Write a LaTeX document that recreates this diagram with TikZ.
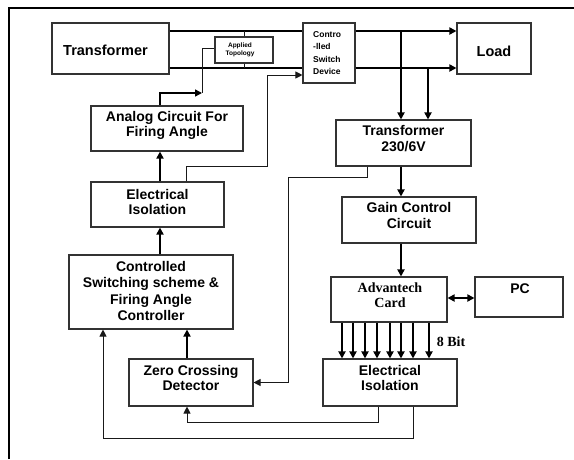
\documentclass[tikz,border=0pt]{standalone}
\usepackage{fontspec}
\setmainfont{Liberation Sans}
\newfontfamily\cardfont{Liberation Serif}
\usetikzlibrary{arrows.meta,calc}

\begin{document}
\begin{tikzpicture}[
    x=1pt, y=-1pt,
    font=\bfseries\fontsize{14}{15.5}\selectfont,
    block/.style={draw=black!80, line width=1.1pt, inner sep=0pt},
    blocktext/.style={align=center, inner sep=0pt},
    bus/.style={line width=2pt, black},
    wire/.style={line width=1pt, black!90},
    arrow/.style={-{Triangle[length=7pt,width=7pt]}},
    twoway/.style={{Triangle[length=7pt,width=7pt]}-{Triangle[length=7pt,width=7pt]}}
]
\useasboundingbox (0,0) rectangle (574,459);
\draw[line width=2pt] (9,459) -- (9,8) -- (574,8);

\node[block, minimum width=117pt, minimum height=51pt] (xfmr) at (110.5,48.5) {};
\node[blocktext, font=\bfseries\fontsize{14.5}{16}\selectfont] (xfmr-t)
    at ([xshift=-5pt,yshift=-1.5pt]xfmr.center) {Transformer};

\node[block, minimum width=58pt, minimum height=26pt] (topo) at (244,50) {};
\node[blocktext, font=\bfseries\fontsize{6.5}{8}\selectfont] (topo-t)
    at ([xshift=-4pt]topo.center) {Applied\\Topology};

\node[block, minimum width=52pt, minimum height=60pt] (sw) at (329,53) {};
\node[blocktext, align=left, anchor=west, font=\bfseries\fontsize{8.5}{12.3}\selectfont] (sw-t)
    at ([xshift=-16pt]sw.center) {Contro\\-lled\\Switch\\Device};

\node[block, minimum width=74pt, minimum height=51pt] (load) at (494,48.5) {};
\node[blocktext, font=\bfseries\fontsize{14.5}{16}\selectfont] (load-t)
    at ([yshift=-3pt]load.center) {Load};

\node[block, minimum width=135pt, minimum height=46pt] (t230) at (403.5,143) {};
\node[blocktext] (t230-t) at ([yshift=4.5pt]t230.center) {Transformer\\230/6V};

\node[block, minimum width=134pt, minimum height=46pt] (gain) at (409,220) {};
\node[blocktext] (gain-t) at ([yshift=4.5pt]gain.center) {Gain Control\\Circuit};

\node[block, minimum width=116pt, minimum height=45pt] (adv) at (389,299.5) {};
\node[blocktext, font=\cardfont\bfseries\fontsize{14}{15}\selectfont] (adv-t)
    at ([xshift=1pt,yshift=4.5pt]adv.center) {Advantech\\Card};

\node[block, minimum width=88pt, minimum height=40pt] (pc) at (519,297) {};
\node[blocktext] (pc-t) at ([xshift=1pt,yshift=8.5pt]pc.center) {PC};

\node[block, minimum width=134pt, minimum height=47pt] (eiso2) at (390,382.5) {};
\node[blocktext] (eiso2-t) at ([yshift=4.5pt]eiso2.center) {Electrical\\Isolation};

\node[block, minimum width=152pt, minimum height=45pt] (analog) at (167,128.5) {};
\node[blocktext] (analog-t) at ([yshift=3pt]analog.center) {Analog Circuit For\\Firing Angle};

\node[block, minimum width=133pt, minimum height=45pt] (eiso1) at (157.5,204.5) {};
\node[blocktext] (eiso1-t) at ([yshift=2.5pt]eiso1.center) {Electrical\\Isolation};

\node[block, minimum width=164pt, minimum height=74pt] (ctrl) at (151,292) {};
\node[blocktext, font=\bfseries\fontsize{14}{16.3}\selectfont] (ctrl-t)
    at ([yshift=1pt]ctrl.center) {Controlled\\Switching scheme \&\\Firing Angle\\Controller};

\node[block, minimum width=124pt, minimum height=47pt] (zcd) at (191,382.5) {};
\node[blocktext] (zcd-t) at ([yshift=4.5pt]zcd.center) {Zero Crossing\\Detector};

\node[font=\cardfont\bfseries\fontsize{14}{16}\selectfont, inner sep=0pt] (bits) at (451,342) {8 Bit};

\draw[bus] (xfmr.east |- 0,31) -- (sw.west |- 0,31);
\draw[bus] (xfmr.east |- 0,68) -- (sw.west |- 0,68);
\draw[wire] (topo.north) -- (topo.north |- 0,31);
\draw[wire] (topo.south) -- (topo.south |- 0,68);
\draw[bus, arrow] (sw.east |- 0,31) -- (load.west |- 0,31);
\draw[bus, arrow] (sw.east |- 0,68) -- (load.west |- 0,68);
\draw[bus, arrow] (401,31) -- (t230.north -| 401,0);
\draw[bus, arrow] (428,68) -- (t230.north -| 428,0);

\draw[bus, arrow] (t230.south -| 401,0) -- (gain.north -| 401,0);
\draw[bus, arrow] (gain.south -| 401,0) -- (adv.north -| 401,0);
\draw[bus, twoway] (adv.east |- 0,298) -- (pc.west |- 0,298);
\foreach \bx in {342,353,365,377,390,401,413,429}
    \draw[bus, arrow] (adv.south -| \bx,0) -- (eiso2.north -| \bx,0);

\draw[wire, arrow] (t230.south -| 367,0) |- (288,177) |- (zcd.east);
\draw[wire, arrow] (eiso2.south -| 378,0) |- (187,422) -- (zcd.south -| 187,0);
\draw[wire, arrow] (eiso2.south -| 413,0) |- (103,438) -- (ctrl.south -| 103,0);
\draw[bus, arrow] (zcd.north -| 187,0) -- (ctrl.south -| 187,0);
\draw[bus, arrow] (ctrl.north -| 160,0) -- (eiso1.south -| 160,0);
\draw[bus, arrow] (eiso1.north -| 160,0) -- (analog.south -| 160,0);

\draw[wire, arrow] (eiso1.north -| 186,0) |- (267,166) |- (sw.west |- 0,75);
\draw[line width=1.5pt, arrow] (analog.north -| 160,0) |- (202,93);
\draw[wire] (202,93) |- (topo.west |- 0,48);
\end{tikzpicture}
\end{document}
